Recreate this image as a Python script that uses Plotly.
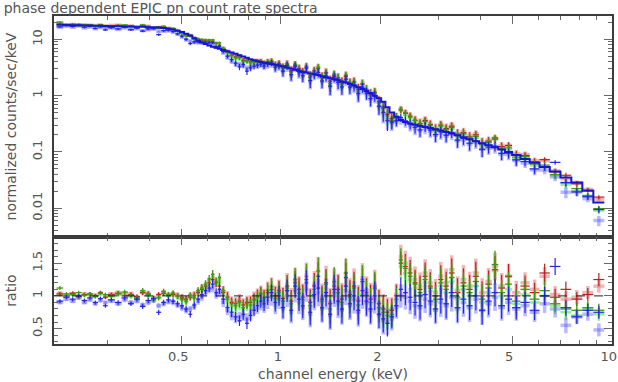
"""Phase dependent EPIC pn count rate spectra with a data/model ratio panel.

Counts are drawn as model x ratio (the ratio panel is data/model), with
bin widths as horizontal error bars, XSPEC style.
"""

import numpy as np
import plotly.graph_objects as go

FONT = "DejaVu Sans"
TXT = "#555555"

# energy bin edges (keV)
E_EDGES = [
    0.210, 0.220, 0.230, 0.240, 0.250, 0.260, 0.270, 0.280, 0.290, 0.300,
    0.315, 0.330, 0.345, 0.360, 0.375, 0.390, 0.405, 0.420, 0.435, 0.450,
    0.465, 0.480, 0.495, 0.510, 0.525, 0.540, 0.555, 0.570, 0.585, 0.600,
    0.615, 0.630, 0.645, 0.660, 0.680, 0.700, 0.720, 0.740, 0.760, 0.780,
    0.800, 0.820, 0.840, 0.860, 0.880, 0.900, 0.925, 0.950, 0.975, 1.000,
    1.030, 1.060, 1.090, 1.120, 1.150, 1.180, 1.210, 1.245, 1.280, 1.315,
    1.350, 1.390, 1.430, 1.470, 1.510, 1.550, 1.595, 1.640, 1.690, 1.740,
    1.790, 1.840, 1.895, 1.950, 2.010, 2.070, 2.130, 2.200, 2.270, 2.340,
    2.420, 2.500, 2.590, 2.680, 2.780, 2.880, 2.990, 3.100, 3.220, 3.350,
    3.490, 3.640, 3.800, 3.970, 4.150, 4.340, 4.540, 4.760, 5.000, 5.300,
    5.650, 6.050, 6.500, 7.000, 7.550, 8.150, 8.800, 9.500,
]

# folded model, counts/sec/keV per bin
MODEL = [
    18.2, 18.0, 17.9, 17.8, 17.7, 17.6, 17.5, 17.4, 17.3, 17.2,
    17.1, 17.0, 16.9, 16.8, 16.7, 16.5, 16.4, 16.2, 15.9, 15.5,
    15.0, 14.3, 13.5, 12.6, 11.7, 10.5, 9.5, 8.8, 8.3, 7.8,
    7.4, 7.1, 6.8, 6.45, 6.15, 5.85, 5.55, 5.25, 4.95, 4.7,
    4.45, 4.25, 4.1, 3.95, 3.85, 3.75, 3.65, 3.55, 3.45, 3.33,
    3.18, 3.03, 2.9, 2.77, 2.66, 2.57, 2.48, 2.4, 2.32, 2.22,
    2.13, 2.05, 1.96, 1.87, 1.79, 1.71, 1.62, 1.52, 1.41, 1.31,
    1.21, 1.11, 1.0, 0.9, 0.78, 0.62, 0.5, 0.42, 0.37, 0.34,
    0.32, 0.305, 0.29, 0.278, 0.266, 0.254, 0.24, 0.226, 0.212, 0.198,
    0.183, 0.168, 0.155, 0.143, 0.132, 0.121, 0.111, 0.1, 0.088, 0.075,
    0.064, 0.054, 0.045, 0.035, 0.0286, 0.0205, 0.0126,
]

# 1-sigma error on the ratio, per bin
RATIO_ERR = [
    0.03, 0.03, 0.03, 0.03, 0.03, 0.03, 0.03, 0.03, 0.03, 0.03,
    0.035, 0.035, 0.035, 0.035, 0.04, 0.04, 0.04, 0.04, 0.04, 0.04,
    0.045, 0.045, 0.05, 0.05, 0.05, 0.055, 0.055, 0.06, 0.06, 0.06,
    0.065, 0.065, 0.07, 0.07, 0.075, 0.075, 0.08, 0.08, 0.085, 0.085,
    0.09, 0.09, 0.095, 0.1, 0.11, 0.12, 0.13, 0.14, 0.15, 0.16,
    0.17, 0.17, 0.18, 0.18, 0.19, 0.19, 0.2, 0.2, 0.21, 0.21,
    0.21, 0.22, 0.22, 0.22, 0.22, 0.22, 0.22, 0.22, 0.22, 0.22,
    0.22, 0.22, 0.22, 0.21, 0.21, 0.2, 0.18, 0.17, 0.18, 0.19,
    0.2, 0.2, 0.21, 0.21, 0.21, 0.21, 0.22, 0.22, 0.22, 0.22,
    0.22, 0.22, 0.22, 0.22, 0.21, 0.21, 0.2, 0.19, 0.18, 0.16,
    0.15, 0.14, 0.13, 0.12, 0.11, 0.1, 0.1,
]

RATIO_RED = [
    1.03, 1.0, 1.04, 0.99, 1.02, 1.03, 1.0, 1.05, 0.98, 1.02,
    1.04, 1.0, 1.02, 0.99, 1.05, 1.03, 0.96, 1.02, 1.04, 1.01,
    1.02, 1.0, 0.97, 0.95, 0.98, 1.0, 1.05, 1.1, 1.15, 1.2,
    1.25, 1.2, 1.15, 1.05, 0.98, 0.9, 0.88, 0.92, 0.86, 0.9,
    0.9, 0.95, 1.0, 1.04, 0.98, 1.05, 1.1, 1.0, 1.08, 0.96,
    1.15, 0.92, 1.2, 1.1, 0.98, 1.25, 0.9, 1.15, 1.3, 0.95,
    1.2, 0.88, 1.15, 1.1, 0.95, 1.28, 1.02, 1.15, 0.92, 1.22,
    1.05, 0.95, 1.12, 0.88, 0.8, 0.75, 0.78, 1.0, 1.5, 1.45,
    1.35, 1.2, 1.1, 1.3, 1.15, 1.0, 1.25, 1.15, 1.35, 1.05,
    1.2, 1.1, 1.3, 1.0, 1.18, 1.4, 1.12, 1.3, 1.0, 1.15,
    1.05, 1.35, 0.98, 1.1, 0.95, 1.02, 1.25,
]

RATIO_PINK = [
    1.04, 1.01, 1.03, 1.0, 1.03, 1.02, 1.01, 1.04, 0.99, 1.03,
    1.05, 1.02, 1.03, 0.98, 1.06, 1.04, 0.97, 1.01, 1.05, 1.02,
    1.03, 1.01, 0.98, 0.96, 1.0, 1.02, 1.06, 1.12, 1.16, 1.22,
    1.28, 1.2, 1.24, 1.08, 1.0, 0.92, 0.9, 0.95, 0.88, 0.92,
    0.92, 0.98, 1.02, 1.06, 1.0, 1.1, 1.15, 1.02, 1.1, 0.98,
    1.18, 0.95, 1.25, 1.12, 1.0, 1.32, 0.92, 1.18, 1.38, 0.98,
    1.25, 0.9, 1.2, 1.12, 0.98, 1.35, 1.05, 1.2, 0.95, 1.28,
    1.08, 0.98, 1.18, 0.9, 0.82, 0.78, 0.8, 1.02, 1.6, 1.5,
    1.4, 1.25, 1.15, 1.35, 1.2, 1.05, 1.3, 1.2, 1.4, 1.08,
    1.25, 1.15, 1.35, 1.05, 1.22, 1.45, 1.15, 1.3, 1.05, 1.2,
    1.1, 1.3, 1.02, 0.95, 0.98, 1.05, 1.15,
]

RATIO_GREEN = [
    1.12, 1.03, 1.02, 1.05, 1.01, 1.03, 0.99, 1.04, 1.02, 1.0,
    1.03, 1.06, 1.01, 0.97, 1.08, 1.02, 0.94, 0.97, 1.07, 1.02,
    1.04, 1.0, 0.95, 0.92, 1.01, 0.97, 1.08, 1.12, 1.18, 1.26,
    1.33, 1.22, 1.28, 1.08, 0.95, 0.88, 0.85, 0.9, 0.82, 0.88,
    0.86, 0.93, 0.98, 1.02, 0.95, 1.08, 1.14, 0.96, 1.05, 0.92,
    1.12, 0.88, 1.25, 1.04, 0.94, 1.3, 0.85, 1.1, 1.38, 0.92,
    1.18, 0.8, 1.22, 1.05, 0.9, 1.35, 0.98, 1.12, 0.86, 1.25,
    1.02, 0.9, 1.15, 0.82, 0.75, 0.7, 0.72, 0.95, 1.55, 1.42,
    1.3, 1.18, 1.05, 1.25, 1.12, 0.95, 1.2, 1.1, 1.28, 0.98,
    1.15, 1.05, 1.22, 0.95, 1.12, 1.48, 1.05, 1.18, 0.92, 1.1,
    0.95, 1.08, 0.88, 0.8, 0.78, 0.82, 0.78,
]

RATIO_LGREEN = [
    1.02, 1.0, 1.03, 0.98, 1.01, 1.02, 0.99, 1.03, 1.0, 0.99,
    1.02, 1.04, 0.99, 0.96, 1.05, 1.0, 0.95, 0.98, 1.04, 1.0,
    1.02, 0.98, 0.94, 0.9, 0.98, 0.96, 1.05, 1.1, 1.15, 1.22,
    1.28, 1.18, 1.22, 1.05, 0.92, 0.85, 0.82, 0.86, 0.8, 0.85,
    0.84, 0.9, 0.95, 1.0, 0.92, 1.04, 1.1, 0.94, 1.02, 0.9,
    1.08, 0.85, 1.2, 1.0, 0.9, 1.24, 0.82, 1.06, 1.3, 0.9,
    1.12, 0.78, 1.18, 1.0, 0.88, 1.3, 0.95, 1.08, 0.84, 1.2,
    1.0, 0.88, 1.1, 0.8, 0.72, 0.68, 0.7, 0.92, 1.45, 1.35,
    1.25, 1.12, 1.0, 1.2, 1.08, 0.92, 1.15, 1.05, 1.22, 0.95,
    1.1, 1.0, 1.15, 0.9, 1.05, 1.38, 1.0, 1.1, 0.88, 1.02,
    0.9, 1.0, 0.85, 0.75, 0.7, 0.8, 0.72,
]

RATIO_BLUE = [
    0.92, 0.98, 0.95, 1.0, 0.93, 0.97, 0.9, 0.96, 0.85, 0.94,
    0.9, 0.97, 0.88, 0.95, 0.84, 0.93, 0.96, 0.75, 0.9, 0.94,
    0.92, 0.88, 0.85, 0.8, 0.72, 0.86, 0.95, 1.02, 1.08, 1.12,
    1.18, 1.05, 1.1, 0.95, 0.82, 0.75, 0.68, 0.62, 0.72, 0.58,
    0.7, 0.78, 0.85, 0.92, 0.88, 0.98, 1.05, 0.9, 1.0, 0.82,
    1.08, 0.78, 1.15, 0.95, 0.85, 1.2, 0.75, 1.02, 1.12, 0.82,
    1.05, 0.72, 1.1, 0.92, 0.8, 1.15, 0.88, 1.0, 0.78, 1.08,
    0.92, 0.8, 1.0, 0.72, 0.65, 0.58, 0.68, 0.85, 1.1, 1.05,
    0.98, 0.9, 0.85, 1.02, 0.92, 0.8, 0.95, 0.88, 1.05, 0.82,
    0.95, 0.85, 1.0, 0.78, 0.92, 1.05, 0.85, 0.95, 0.82, 0.9,
    0.78, 1.0, 1.45, 0.82, 0.68, 0.78, 0.75,
]

RATIO_LBLUE = [
    0.9, 0.95, 0.92, 0.97, 0.9, 0.94, 0.88, 0.93, 0.9, 0.92,
    0.88, 0.94, 0.9, 0.92, 0.86, 0.9, 0.93, 0.85, 0.88, 0.91,
    0.9, 0.86, 0.82, 0.78, 0.8, 0.84, 0.92, 0.98, 1.05, 1.1,
    1.12, 1.02, 1.05, 0.9, 0.78, 0.7, 0.66, 0.68, 0.7, 0.65,
    0.72, 0.8, 0.82, 0.88, 0.85, 0.92, 0.98, 0.86, 0.95, 0.8,
    1.0, 0.75, 1.08, 0.9, 0.82, 1.1, 0.72, 0.98, 1.05, 0.8,
    1.0, 0.7, 1.05, 0.88, 0.78, 1.08, 0.85, 0.95, 0.75, 1.02,
    0.9, 0.78, 0.95, 0.7, 0.62, 0.6, 0.65, 0.82, 1.0, 0.98,
    0.92, 0.85, 0.82, 0.95, 0.88, 0.78, 0.9, 0.85, 0.98, 0.8,
    0.9, 0.82, 0.95, 0.78, 0.88, 0.98, 0.82, 0.9, 0.8, 0.85,
    0.75, 0.88, 0.8, 0.55, 0.68, 0.72, 0.48,
]

X_TICKS = [0.5, 1, 2, 5, 10]
X_TICK_TEXT = ["0.5", "1", "2", "5", "10"]
X_MINOR = [0.3, 0.4, 0.6, 0.7, 0.8, 0.9, 3, 4, 6, 7, 8, 9]
Y_TICKS = [0.01, 0.1, 1, 10]
Y_TICK_TEXT = ["0.01", "0.1", "1", "10"]
Y_MINOR = [m * d for d in (0.001, 0.01, 0.1, 1, 10) for m in range(2, 10)]
R_TICKS = [0.5, 1, 1.5]
R_TICK_TEXT = ["0.5", "1", "1.5"]

# draw order: faint wide spectra first, thin dark ones on top
SERIES = [
    (RATIO_PINK, "rgba(228,120,120,0.55)", 3.5),
    (RATIO_LGREEN, "rgba(100,240,100,0.75)", 2.5),
    (RATIO_LBLUE, "rgba(100,100,255,0.45)", 3.5),
    (RATIO_RED, "#b42222", 1.2),
    (RATIO_GREEN, "#3d9a0a", 1.3),
    (RATIO_BLUE, "#2424e6", 1.2),
]

edges = np.array(E_EDGES)
lo, hi = edges[:-1], edges[1:]
energy = np.sqrt(lo * hi)
model = np.array(MODEL)
rerr = np.array(RATIO_ERR)

fig = go.Figure()
for ratio, color, width in SERIES:
    ratio = np.array(ratio)
    xerr = dict(type="data", symmetric=False, array=hi - energy,
                arrayminus=energy - lo, color=color, thickness=width, width=0)
    for ax, y, err in (("", model * ratio, model * rerr), ("2", ratio, rerr)):
        fig.add_trace(go.Scatter(
            x=energy, y=y, xaxis="x" + ax, yaxis="y" + ax,
            mode="markers", marker=dict(size=1, color=color),
            error_x=xerr,
            error_y=dict(type="data", array=err, color=color,
                         thickness=width, width=0),
            showlegend=False, hoverinfo="skip",
        ))

# model as a histogram over the bin edges
fig.add_trace(go.Scatter(
    x=list(lo) + [hi[-1]], y=list(model) + [model[-1]],
    mode="lines", line=dict(color="#1515d2", width=2, shape="hv"),
    showlegend=False, hoverinfo="skip",
))

fig.add_shape(type="line", xref="x2 domain", yref="y2", x0=0, x1=1, y0=1, y1=1,
              line=dict(color="#222222", width=1, dash="dash"))

axis = dict(
    showline=True, linecolor="#3c3c3c", linewidth=1.5, mirror="ticks",
    ticks="inside", tickcolor="#6a6a6a", tickwidth=1, showgrid=False,
    zeroline=False, automargin=False, ticklabeloverflow="allow",
    tickfont=dict(family=FONT, size=13, color=TXT),
)
minor = dict(ticks="inside", ticklen=4, tickcolor="#6a6a6a")
split = 107 / 328
xrange = [np.log10(0.2063), np.log10(10.02)]
title_font = dict(family=FONT, size=14, color=TXT)

fig.update_layout(
    width=618, height=382,
    margin=dict(l=54, r=6, t=16, b=38),
    plot_bgcolor="white", paper_bgcolor="white",
    font=dict(family=FONT, color=TXT),
    hovermode=False,
    title=dict(text="phase dependent EPIC pn count rate spectra",
               font=dict(family=FONT, size=14, color=TXT),
               x=0.006, xanchor="left", xref="container",
               y=1 - 8 / 382, yanchor="middle", yref="container",
               pad=dict(t=0, l=0, b=0)),
    xaxis=dict(axis, type="log", range=xrange, anchor="y",
               tickvals=X_TICKS, ticklen=8, showticklabels=False,
               minor=dict(minor, tickmode="array", tickvals=X_MINOR)),
    yaxis=dict(axis, type="log", range=[-2.512, 1.416], domain=[split, 1],
               anchor="x", tickvals=Y_TICKS, ticktext=Y_TICK_TEXT,
               tickangle=-90, ticklen=8, ticklabelstandoff=5,
               minor=dict(minor, tickmode="array", tickvals=Y_MINOR),
               title=dict(text="normalized counts/sec/keV", font=title_font,
                          standoff=10)),
    xaxis2=dict(axis, type="log", range=xrange, anchor="y2",
                tickvals=X_TICKS, ticktext=X_TICK_TEXT, ticklen=8,
                ticklabelshift=-3,
                minor=dict(minor, tickmode="array", tickvals=X_MINOR),
                title=dict(text="channel energy (keV)", font=title_font,
                           standoff=6)),
    yaxis2=dict(axis, range=[0.265, 1.9], domain=[0, split], anchor="x2",
                tickvals=R_TICKS, ticktext=R_TICK_TEXT, tickangle=-90,
                ticklen=8, ticklabelstandoff=5,
                minor=dict(minor, dtick=0.1),
                title=dict(text="ratio", font=title_font, standoff=10)),
)

# the page's default body margin would push the fixed-size figure off-window
fig.write_html("out.html", config={"displayModeBar": False},
               post_script="document.body.style.margin = '0';")
